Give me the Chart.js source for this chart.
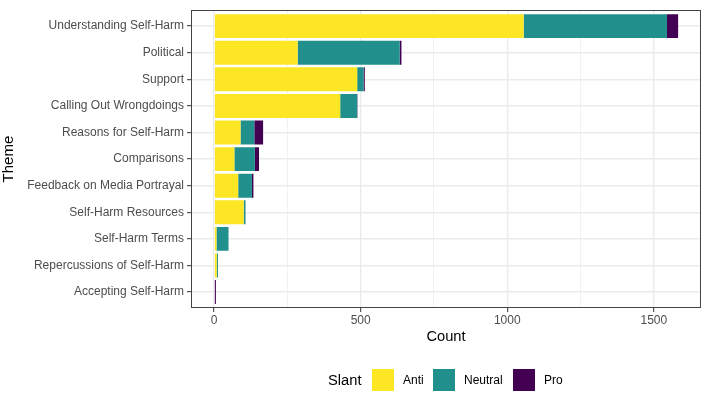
<!DOCTYPE html>
<html>
<head>
<meta charset="utf-8">
<script src="https://cdn.jsdelivr.net/npm/chart.js@4"></script>
<style>
  body { margin: 0; background: #fff; }
  #wrap { position: relative; width: 706px; height: 394px; font-family: "Liberation Sans", Arial, sans-serif; }
  #legend { position: absolute; left: 0; top: 0; width: 706px; height: 394px; pointer-events: none; }
  .lg-title { position: absolute; font-size: 14.7px; color: #000; line-height: 18px; }
  .lg-key { position: absolute; width: 22px; height: 22px; }
  .lg-text { position: absolute; font-size: 12px; color: #000; line-height: 14px; }
</style>
</head>
<body>
<div id="wrap">
  <canvas id="chart" width="706" height="394"></canvas>
  <div id="legend"></div>
</div>
<script>
// -------------------------
// Data
// -------------------------
const themes = [
  "Understanding Self-Harm",
  "Political",
  "Support",
  "Calling Out Wrongdoings",
  "Reasons for Self-Harm",
  "Comparisons",
  "Feedback on Media Portrayal",
  "Self-Harm Resources",
  "Self-Harm Terms",
  "Repercussions of Self-Harm",
  "Accepting Self-Harm"
];
const antiCounts    = [1056, 285, 488, 430, 90, 69, 82, 101, 8, 9, 0];
const neutralCounts = [489, 348, 22, 58, 47, 70, 47, 6, 41, 4, 0];
const proCounts     = [38, 6, 4, 1, 30, 14, 5, 0, 0, 0, 6];

const slants = ["Anti", "Neutral", "Pro"];
const slantColors = ["#FDE725", "#21908C", "#440154"];

const xTicks = [0, 250, 500, 750, 1000, 1250, 1500];
const xLabelTicks = [0, 500, 1000, 1500];

// -------------------------
// Helpers
// -------------------------
const toPoints = arr => arr.map((v, i) => ({ x: v, y: i }));
const isMajor = v => xLabelTicks.includes(v);

// panel border drawn on top of everything (ggplot theme_bw)
const panelBorder = {
  id: "panelBorder",
  afterDatasetsDraw(chart) {
    const { ctx, chartArea: a } = chart;
    ctx.save();
    ctx.strokeStyle = "#444444";
    ctx.lineWidth = 1;
    ctx.strokeRect(Math.round(a.left) + 0.5, Math.round(a.top) + 0.5,
      Math.round(a.right - a.left) - 1, Math.round(a.bottom - a.top) - 1);
    ctx.restore();
  }
};

const counts = [antiCounts, neutralCounts, proCounts];

new Chart(document.getElementById("chart"), {
  type: "bar",
  data: {
    datasets: slants.map((s, k) => ({
      label: s,
      data: toPoints(counts[k]),
      backgroundColor: slantColors[k],
      borderWidth: 0,
      categoryPercentage: 1,
      barPercentage: 0.9
    }))
  },
  options: {
    indexAxis: "y",
    responsive: false,
    animation: false,
    devicePixelRatio: 1,
    layout: { padding: { top: 4, right: 5, bottom: 46, left: 0 } },
    plugins: { legend: { display: false }, tooltip: { enabled: false } },
    scales: {
      x: {
        type: "linear",
        stacked: true,
        min: -79,
        max: 1661,
        afterBuildTicks: scale => { scale.ticks = xTicks.map(v => ({ value: v })); },
        afterFit: scale => { scale.height = 40; },
        border: { display: false },
        grid: {
          color: "#EBEBEB",
          lineWidth: c => (isMajor(c.tick.value) ? 1.4 : 0.7),
          tickColor: c => (isMajor(c.tick.value) ? "#333333" : "rgba(0,0,0,0)"),
          tickWidth: 1,
          tickLength: 4
        },
        ticks: {
          padding: 1,
          color: "#4D4D4D",
          font: { family: "Liberation Sans", size: 12 },
          maxRotation: 0,
          autoSkip: false,
          callback: v => (isMajor(v) ? String(v) : "")
        },
        title: {
          display: true,
          text: "Count",
          color: "#000",
          font: { family: "Liberation Sans", size: 14.7 },
          padding: { top: 0, bottom: 2 }
        }
      },
      y: {
        type: "linear",
        stacked: true,
        reverse: true,
        offset: false,
        min: -0.6,
        max: 10.6,
        afterBuildTicks: scale => { scale.ticks = themes.map((t, i) => ({ value: i })); },
        afterFit: scale => { scale.width = 191; },
        border: { display: false },
        grid: {
          offset: false,
          color: "#EBEBEB",
          lineWidth: 1.4,
          tickColor: "#333333",
          tickWidth: 1,
          tickLength: 4
        },
        ticks: {
          padding: 3,
          color: "#4D4D4D",
          font: { family: "Liberation Sans", size: 12 },
          autoSkip: false,
          callback: v => themes[v]
        },
        title: {
          display: true,
          text: "Theme",
          color: "#000",
          font: { family: "Liberation Sans", size: 15 },
          padding: { top: 0, bottom: 0 }
        }
      }
    }
  },
  plugins: [panelBorder]
});

// -------------------------
// Legend (bottom, horizontal)
// -------------------------
const legend = document.getElementById("legend");
const keyLeft = [372, 433, 513];
legend.innerHTML = `<div class="lg-title" style="left:328px;top:371px">Slant</div>` +
  slants.map((s, k) => `
    <div class="lg-key" style="left:${keyLeft[k]}px;top:369px;background:${slantColors[k]}"></div>
    <div class="lg-text" style="left:${keyLeft[k] + 31}px;top:373px">${s}</div>
  `).join("");
</script>
</body>
</html>
